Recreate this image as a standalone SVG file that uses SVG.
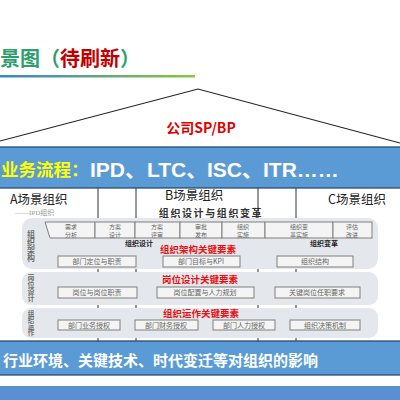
<svg xmlns="http://www.w3.org/2000/svg" width="400" height="400" viewBox="0 0 400 400">
<defs>
<linearGradient id="ul" x1="0" y1="0" x2="1" y2="0">
<stop offset="0" stop-color="#3a86c4"/>
<stop offset="1" stop-color="#8cc63f"/>
</linearGradient>
<style>
text{font-family:"Noto Sans CJK SC","Liberation Sans",sans-serif}
.bar{fill:#5b9bd5;stroke:#25406a;stroke-width:1.2}
.band{fill:#e4e8ed}
.box{fill:#f4f4f4;stroke:#7f7f7f;stroke-width:1}
.bt{font-size:7px;fill:#666;text-anchor:middle}
.pt{font-size:6px;fill:#666;text-anchor:middle}
.red{font-size:9.5px;fill:#e81010;font-weight:bold}
.vl{fill:#6f6f6f;font-weight:bold;writing-mode:vertical-rl;text-orientation:upright}
.col{font-size:12.5px;fill:#222}
.div{stroke:#333;stroke-width:1}
</style>
</defs>
<rect width="400" height="400" fill="#fff"/>
<g id="title">
<text x="0" y="66" font-size="20" font-weight="bold" fill="#2f9e6e">景图（<tspan fill="#c00000">待刷新</tspan>）</text>
<rect x="0" y="75" width="195" height="2.5" fill="url(#ul)"/>
</g>
<g id="roof">
<polyline points="0,141 198,89 400,143" fill="none" stroke="#222" stroke-width="1.2"/>
<text x="201" y="133" font-size="14" font-weight="bold" fill="#e00000" text-anchor="middle">公司SP/BP</text>
</g>
<g id="connectors">
<line class="div" x1="98" y1="188" x2="98" y2="342"/>
<line class="div" x1="136" y1="188" x2="136" y2="342"/>
<line class="div" x1="258" y1="188" x2="258" y2="342"/>
<line class="div" x1="296" y1="188" x2="296" y2="342"/>
</g>
<g id="process-bar">
<rect class="bar" x="-2" y="147" width="404" height="41"/>
<text x="1" y="176" font-size="17.5" font-weight="bold" fill="#ffff00">业务流程：</text>
<text y="177" font-size="21" font-weight="bold" fill="#fff" style="font-family:'Liberation Sans','Noto Sans CJK SC',sans-serif"><tspan x="90">IPD、</tspan><tspan x="147">LTC、</tspan><tspan x="207">ISC、</tspan><tspan x="263">ITR……</tspan></text>
</g>
<g id="scenes">
<text class="col" x="10" y="204">A场景组织</text>
<text x="15" y="215" font-size="7" fill="#999" style="font-family:'Liberation Serif','Noto Sans CJK SC',serif">——IPD组织</text>
<text class="col" x="165" y="200">B场景组织</text>
<text class="col" x="328" y="204">C场景组织</text>
<text x="211" y="217" font-size="10" font-weight="bold" fill="#333" text-anchor="middle" letter-spacing="1.6">组织设计与组织变革</text>
</g>
<g id="band-arch">
<rect class="band" x="22" y="218" width="356" height="51" rx="10"/>
<text class="vl" x="31" y="230" font-size="8">组织架构</text>
<polygon class="box" points="45,222 95,222 95,238 50,238"/>
<text class="pt"><tspan x="71" y="229">需求</tspan><tspan x="71" y="236.5">分析</tspan></text>
<rect class="box" x="95" y="222" width="40" height="16"/>
<text class="pt"><tspan x="115" y="229">方案</tspan><tspan x="115" y="236.5">设计</tspan></text>
<rect class="box" x="135" y="222" width="45" height="16"/>
<text class="pt"><tspan x="157" y="229">方案</tspan><tspan x="157" y="236.5">评审</tspan></text>
<rect class="box" x="180" y="222" width="42" height="16"/>
<text class="pt"><tspan x="201" y="229">审批</tspan><tspan x="201" y="236.5">发布</tspan></text>
<rect class="box" x="222" y="222" width="43" height="16"/>
<text class="pt"><tspan x="243" y="229">组织</tspan><tspan x="243" y="236.5">实施</tspan></text>
<rect class="box" x="265" y="222" width="68" height="16"/>
<text class="pt"><tspan x="299" y="229">组织变</tspan><tspan x="299" y="236.5">革实施</tspan></text>
<rect class="box" x="333" y="222" width="39" height="16"/>
<text class="pt"><tspan x="352" y="229">评估</tspan><tspan x="352" y="236.5">改进</tspan></text>
<text x="139" y="246" font-size="7" font-weight="bold" fill="#222" text-anchor="middle">组织设计</text>
<text x="324" y="246" font-size="7" font-weight="bold" fill="#222" text-anchor="middle">组织变革</text>
<text class="red" x="160" y="253">组织架构关键要素</text>
<rect class="box" x="58" y="256" width="78" height="11"/>
<text class="bt" x="97" y="264">部门定位与职责</text>
<rect class="box" x="163" y="256" width="77" height="11"/>
<text class="bt" x="201" y="264">部门目标与KPI</text>
<rect class="box" x="277" y="256" width="76" height="11"/>
<text class="bt" x="315" y="264">组织结构</text>
</g>
<g id="band-post">
<rect class="band" x="22" y="272" width="356" height="33" rx="9"/>
<text class="vl" x="31" y="274" font-size="7">岗位设计</text>
<text class="red" x="162" y="283">岗位设计关键要素</text>
<rect class="box" x="58" y="287" width="79" height="11"/>
<text class="bt" x="97" y="295">岗位与岗位职责</text>
<rect class="box" x="157" y="287" width="97" height="11"/>
<text class="bt" x="205" y="295">岗位配置与人力规划</text>
<rect class="box" x="275" y="287" width="85" height="11"/>
<text class="bt" x="317" y="295">关键岗位任职要求</text>
</g>
<g id="band-op">
<rect class="band" x="22" y="308" width="356" height="30" rx="9"/>
<text class="vl" x="31" y="310" font-size="6.5">组织运作</text>
<text class="red" x="163" y="317">组织运作关键要素</text>
<rect class="box" x="58" y="320" width="62" height="10"/>
<text class="bt" x="89" y="327.5">部门业务授权</text>
<rect class="box" x="135" y="320" width="63" height="10"/>
<text class="bt" x="166" y="327.5">部门财务授权</text>
<rect class="box" x="213" y="320" width="62" height="10"/>
<text class="bt" x="244" y="327.5">部门人力授权</text>
<rect class="box" x="290" y="320" width="70" height="10"/>
<text class="bt" x="325" y="327.5">组织决策机制</text>
</g>
<g id="env-bar">
<rect class="bar" x="-2" y="341" width="404" height="34"/>
<text x="3" y="366" font-size="15" font-weight="bold" fill="#fff">行业环境、关键技术、时代变迁等对组织的影响</text>
</g>
<g id="base-bar">
<rect x="-2" y="386" width="404" height="16" fill="#5b8fd4"/>
</g>
</svg>
